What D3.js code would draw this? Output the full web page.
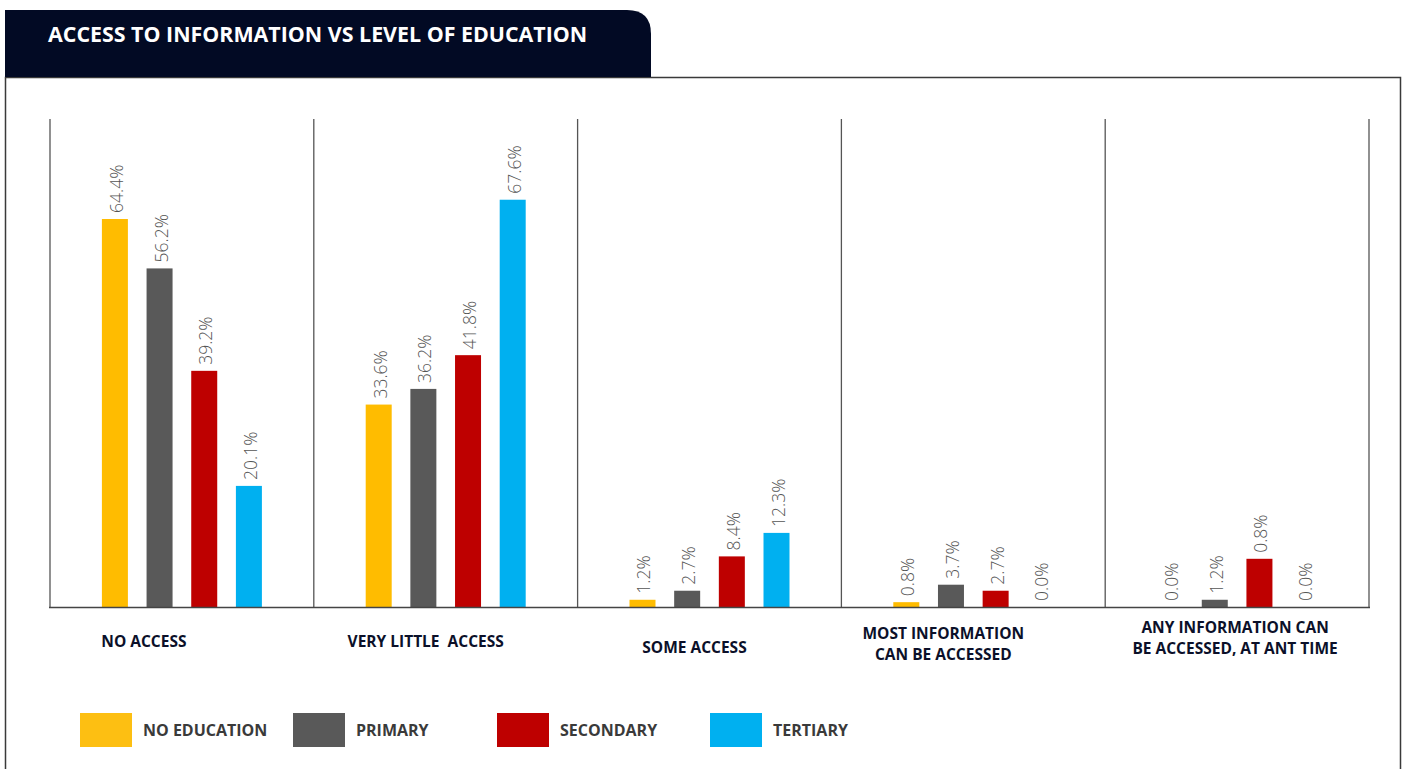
<!DOCTYPE html>
<html>
<head>
<meta charset="utf-8">
<script src="https://cdn.jsdelivr.net/npm/d3@7"></script>
<style>
  html, body { margin: 0; padding: 0; background: #ffffff; }
  svg { display: block; font-family: "Open Sans", "Noto Sans", sans-serif; }
  text { white-space: pre; }
</style>
</head>
<body>
<svg id="chart" width="1405" height="769"></svg>
<script>
// ---------- DATA ----------
const title = "ACCESS TO INFORMATION VS LEVEL OF EDUCATION";
const categories = [
  ["NO ACCESS"],
  ["VERY LITTLE  ACCESS"],
  ["SOME ACCESS"],
  ["MOST INFORMATION", "CAN BE ACCESSED"],
  ["ANY INFORMATION CAN", "BE ACCESSED, AT ANT TIME"]
];
const seriesNames = ["NO EDUCATION", "PRIMARY", "SECONDARY", "TERTIARY"];
// bar heights as drawn (%)
const noEducation = [64.4, 33.6, 1.2, 0.8, 0.0];
const primary     = [56.2, 36.2, 2.7, 3.7, 1.2];
const secondary   = [39.2, 41.8, 8.4, 2.7, 8.0];
const tertiary    = [20.1, 67.6, 12.3, 0.0, 0.0];
// value labels as printed on the chart
const noEducationLabels = ["64.4%", "33.6%", "1.2%", "0.8%", "0.0%"];
const primaryLabels     = ["56.2%", "36.2%", "2.7%", "3.7%", "1.2%"];
const secondaryLabels   = ["39.2%", "41.8%", "8.4%", "2.7%", "0.8%"];
const tertiaryLabels    = ["20.1%", "67.6%", "12.3%", "0.0%", "0.0%"];

// ---------- STYLE / LAYOUT ----------
const colors = ["#FFBC00", "#595959", "#BE0000", "#00B0F0"];
const legendColors = ["#FDBF12", "#595959", "#BE0000", "#00B0F0"];
const catLabelShift = [-38, -20, -15, -30, -2];
const catLabelY = [641, 641, 647, 632.5, 626.5];
const catLineGap = 21.5;
const legendX = [80, 293, 497, 710];

const seriesValues = [noEducation, primary, secondary, tertiary];
const seriesLabels = [noEducationLabels, primaryLabels, secondaryLabels, tertiaryLabels];

const svg = d3.select("#chart");

// frame
svg.append("path")
  .attr("d", "M5.5,780 L5.5,77.5 L1400.5,77.5 L1400.5,780")
  .attr("fill", "none").attr("stroke", "#3a3a3a").attr("stroke-width", 1.5);

// title tab
const tx0 = 5, tx1 = 651, ty0 = 10, ty1 = 77, r = 24;
svg.append("path")
  .attr("d", `M${tx0},${ty1} L${tx0},${ty0} L${tx1 - r},${ty0} Q${tx1},${ty0} ${tx1},${ty0 + r} L${tx1},${ty1} Z`)
  .attr("fill", "#020a24");
svg.append("text")
  .attr("x", 48).attr("y", 42)
  .attr("fill", "#ffffff").attr("font-size", 21.4).attr("font-weight", 700)
  .text(title);

// scales
const plotLeft = 50, plotRight = 1369, plotTop = 119, plotBottom = 607;
const x0 = d3.scaleBand().domain(d3.range(categories.length)).range([plotLeft, plotRight]).padding(0);
const groupSpan = 160;
const x1 = d3.scaleBand().domain(d3.range(seriesNames.length))
  .range([(x0.bandwidth() - groupSpan) / 2, (x0.bandwidth() + groupSpan) / 2])
  .paddingInner(0.418).paddingOuter(0);
const y = d3.scaleLinear().domain([0, 81]).range([plotBottom, plotTop]);

// separators
const seps = d3.range(categories.length + 1).map(i => i < categories.length ? x0(i) : x0(categories.length - 1) + x0.bandwidth());
svg.append("g").selectAll("line").data(seps).join("line")
  .attr("x1", d => d).attr("x2", d => d)
  .attr("y1", plotTop).attr("y2", plotBottom)
  .attr("stroke", "#555555").attr("stroke-width", 1.3);

// bars
const groups = svg.append("g").selectAll("g").data(categories).join("g")
  .attr("transform", (d, i) => `translate(${x0(i)},0)`);

groups.each(function (c, ci) {
  const g = d3.select(this);
  seriesValues.forEach((vals, si) => {
    const v = vals[ci];
    const bx = x1(si);
    if (v > 0) {
      g.append("rect")
        .attr("x", bx).attr("width", x1.bandwidth())
        .attr("y", y(v)).attr("height", y(0) - y(v))
        .attr("fill", colors[si]);
    }
    const lx = bx + x1.bandwidth() / 2 + 1;
    const ly = y(v) - 6;
    g.append("text")
      .attr("transform", `translate(${lx},${ly}) rotate(-90)`)
      .attr("dominant-baseline", "central")
      .attr("font-size", 17.5)
      .attr("font-weight", 300)
      .attr("fill", "#555555")
      .text(seriesLabels[si][ci]);
  });
});

// baseline
svg.append("line")
  .attr("x1", plotLeft - 1).attr("x2", plotRight + 1)
  .attr("y1", plotBottom + 0.5).attr("y2", plotBottom + 0.5)
  .attr("stroke", "#444444").attr("stroke-width", 1.5);

// category labels (one text element per line)
categories.forEach((lines, i) => {
  const cx = x0(i) + x0.bandwidth() / 2 + catLabelShift[i];
  lines.forEach((ln, k) => {
    svg.append("text")
      .attr("x", cx).attr("y", catLabelY[i] + k * catLineGap)
      .attr("dominant-baseline", "central")
      .attr("text-anchor", "middle")
      .attr("font-size", 15.5).attr("font-weight", 700)
      .attr("fill", "#0b1029")
      .text(ln);
  });
});

// legend
const lg = svg.append("g").selectAll("g").data(seriesNames).join("g")
  .attr("transform", (d, i) => `translate(${legendX[i]},713)`);
lg.append("rect").attr("width", 52).attr("height", 34).attr("fill", (d, i) => legendColors[i]);
lg.append("text").attr("x", 63).attr("y", 17).attr("dominant-baseline", "central")
  .attr("font-size", 16).attr("font-weight", 700).attr("fill", "#3a3a3a")
  .text(d => d);
</script>
</body>
</html>
